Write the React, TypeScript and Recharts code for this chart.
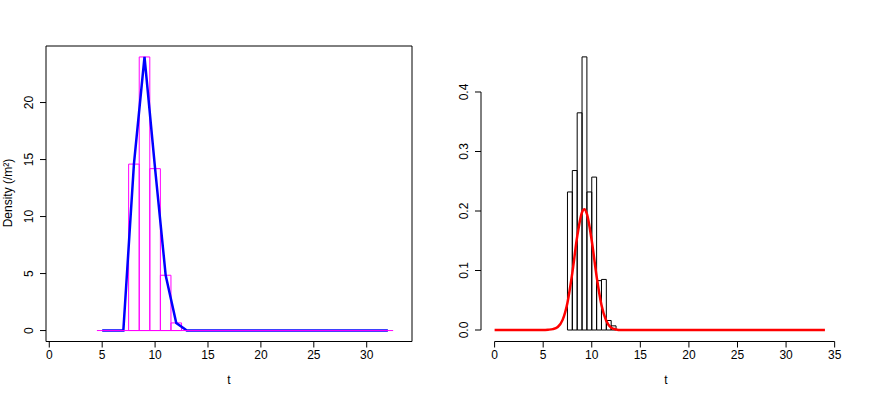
import {
  ComposedChart,
  Line,
  XAxis,
  YAxis,
  ReferenceArea,
  ReferenceLine,
} from 'recharts';

const FONT = '"Liberation Sans", Arial, sans-serif';

// left panel: histogram (width 1 bins) + density line at bin mids
const leftMids = [5, 6, 7, 8, 9, 10, 11, 12, 13, 14, 15, 16, 17, 18, 19, 20, 21, 22, 23, 24, 25, 26, 27, 28, 29, 30, 31, 32];
const leftDensity = [0, 0, 0, 14.6, 24, 14.2, 4.85, 0.67, 0, 0, 0, 0, 0, 0, 0, 0, 0, 0, 0, 0, 0, 0, 0, 0, 0, 0, 0, 0];
const leftBinWidth = 1;
const leftXTicks = [0, 5, 10, 15, 20, 25, 30];
const leftYTicks = [0, 5, 10, 15, 20];

// right panel: histogram (width 0.5 bins) + fitted curve
const rightBinStarts = [7.5, 8, 8.5, 9, 9.5, 10, 10.5, 11, 11.5, 12];
const rightBinHeights = [0.232, 0.268, 0.365, 0.459, 0.232, 0.257, 0.083, 0.085, 0.016, 0.007];
const rightBinWidth = 0.5;
const curveT = [0, 5, 5.5, 6, 6.5, 7, 7.5, 8, 8.5, 9, 9.25, 9.5, 10, 10.5, 11, 11.5, 12, 12.5, 13, 34];
const curveY = [0, 0, 0.0005, 0.0015, 0.005, 0.017, 0.046, 0.096, 0.157, 0.198, 0.203, 0.195, 0.15, 0.09, 0.042, 0.015, 0.004, 0.001, 0, 0];
const rightXTicks = [0, 5, 10, 15, 20, 25, 30, 35];
const rightYTicks = [0, 0.1, 0.2, 0.3, 0.4];

const LEFT_X = [-0.31, 34.28];
const LEFT_Y = [-0.96, 24.96];
const RIGHT_X = [-1.4, 35.86];
const RIGHT_Y = [-0.0193, 0.4773];

const leftData = leftMids.map((t, i) => ({ t, d: leftDensity[i] }));
const curveData = curveT.map((t, i) => ({ t, d: curveY[i] }));

const tickStyle = { fontSize: 12, fill: '#000', fontFamily: FONT };

const RotTick = (fmt: (v: number) => string) => (props: any) => {
  const { x, y, payload } = props;
  const bx = x - 5;
  return (
    <text
      x={bx}
      y={y}
      transform={`rotate(-90 ${bx} ${y})`}
      textAnchor="middle"
      fontSize={12}
      fontFamily={FONT}
      fill="#000"
    >
      {fmt(payload.value)}
    </text>
  );
};

const LeftPanel = () => (
  <ComposedChart
    width={436}
    height={399}
    data={leftData}
    margin={{ top: 46, right: 24, bottom: 27.5, left: 16 }}
  >
    <XAxis
      dataKey="t"
      type="number"
      domain={LEFT_X}
      ticks={leftXTicks}
      allowDataOverflow
      axisLine={false}
      tickSize={6}
      tickMargin={3}
      height={30}
      tick={tickStyle}
      tickLine={{ stroke: '#000' }}
    />
    <YAxis
      type="number"
      domain={LEFT_Y}
      ticks={leftYTicks}
      allowDataOverflow
      axisLine={false}
      tickSize={6}
      tickMargin={2}
      width={30}
      tick={RotTick((v) => String(v))}
      tickLine={{ stroke: '#000' }}
    />
    <ReferenceArea
      x1={LEFT_X[0]}
      x2={LEFT_X[1]}
      y1={LEFT_Y[0]}
      y2={LEFT_Y[1]}
      stroke="#000"
      fill="none"
      fillOpacity={0}
      ifOverflow="visible"
    />
    <Line
      dataKey="d"
      type="linear"
      stroke="#0000ff"
      strokeWidth={2.5}
      dot={false}
      isAnimationActive={false}
    />
    <ReferenceLine
      segment={[
        { x: leftMids[0] - leftBinWidth / 2, y: 0 },
        { x: leftMids[leftMids.length - 1] + leftBinWidth / 2, y: 0 },
      ]}
      stroke="#ff00ff"
      ifOverflow="visible"
    />
    {leftMids.map((t, i) =>
      leftDensity[i] > 0 ? (
        <ReferenceArea
          key={t}
          x1={t - leftBinWidth / 2}
          x2={t + leftBinWidth / 2}
          y1={0}
          y2={leftDensity[i]}
          stroke="#ff00ff"
          fill="none"
          fillOpacity={0}
          ifOverflow="visible"
        />
      ) : null
    )}
  </ComposedChart>
);

const RightPanel = () => (
  <ComposedChart
    width={436}
    height={399}
    data={curveData}
    margin={{ top: 46, right: 29, bottom: 27.5, left: 15 }}
  >
    <XAxis
      dataKey="t"
      type="number"
      domain={RIGHT_X}
      ticks={rightXTicks}
      allowDataOverflow
      axisLine={false}
      tickSize={6}
      tickMargin={3}
      height={30}
      tick={tickStyle}
      tickLine={{ stroke: '#000' }}
    />
    <YAxis
      type="number"
      domain={RIGHT_Y}
      ticks={rightYTicks}
      allowDataOverflow
      axisLine={false}
      tickSize={6}
      tickMargin={2}
      width={30}
      tick={RotTick((v) => v.toFixed(1))}
      tickLine={{ stroke: '#000' }}
    />
    <ReferenceLine
      segment={[
        { x: rightXTicks[0], y: RIGHT_Y[0] },
        { x: rightXTicks[rightXTicks.length - 1], y: RIGHT_Y[0] },
      ]}
      stroke="#000"
      ifOverflow="visible"
    />
    <ReferenceLine
      segment={[
        { x: RIGHT_X[0], y: rightYTicks[0] },
        { x: RIGHT_X[0], y: rightYTicks[rightYTicks.length - 1] },
      ]}
      stroke="#000"
      ifOverflow="visible"
    />
    {rightBinStarts.map((t, i) => (
      <ReferenceArea
        key={t}
        x1={t}
        x2={t + rightBinWidth}
        y1={0}
        y2={rightBinHeights[i]}
        stroke="#000"
        fill="none"
        fillOpacity={0}
        ifOverflow="visible"
      />
    ))}
    <Line
      dataKey="d"
      type="monotone"
      stroke="#ff0000"
      strokeWidth={2.5}
      dot={false}
      isAnimationActive={false}
    />
  </ComposedChart>
);

const textStyle: React.CSSProperties = {
  position: 'absolute',
  fontFamily: FONT,
  fontSize: 12,
  color: '#000',
  whiteSpace: 'nowrap',
};

export default function App() {
  return (
    <div
      style={{
        position: 'absolute',
        left: 0,
        top: 0,
        width: 872,
        height: 399,
        background: '#fff',
        overflow: 'hidden',
      }}
    >
      <div style={{ position: 'absolute', left: 0, top: 0 }}>
        <LeftPanel />
      </div>
      <div style={{ position: 'absolute', left: 436, top: 0 }}>
        <RightPanel />
      </div>
      <div
        style={{
          ...textStyle,
          left: 8,
          top: 193,
          transform: 'translate(-50%, -50%) rotate(-90deg)',
        }}
      >
        Density (/m²)
      </div>
      <div style={{ ...textStyle, left: 229, top: 380, transform: 'translate(-50%, -50%)' }}>t</div>
      <div style={{ ...textStyle, left: 666, top: 380, transform: 'translate(-50%, -50%)' }}>t</div>
    </div>
  );
}
